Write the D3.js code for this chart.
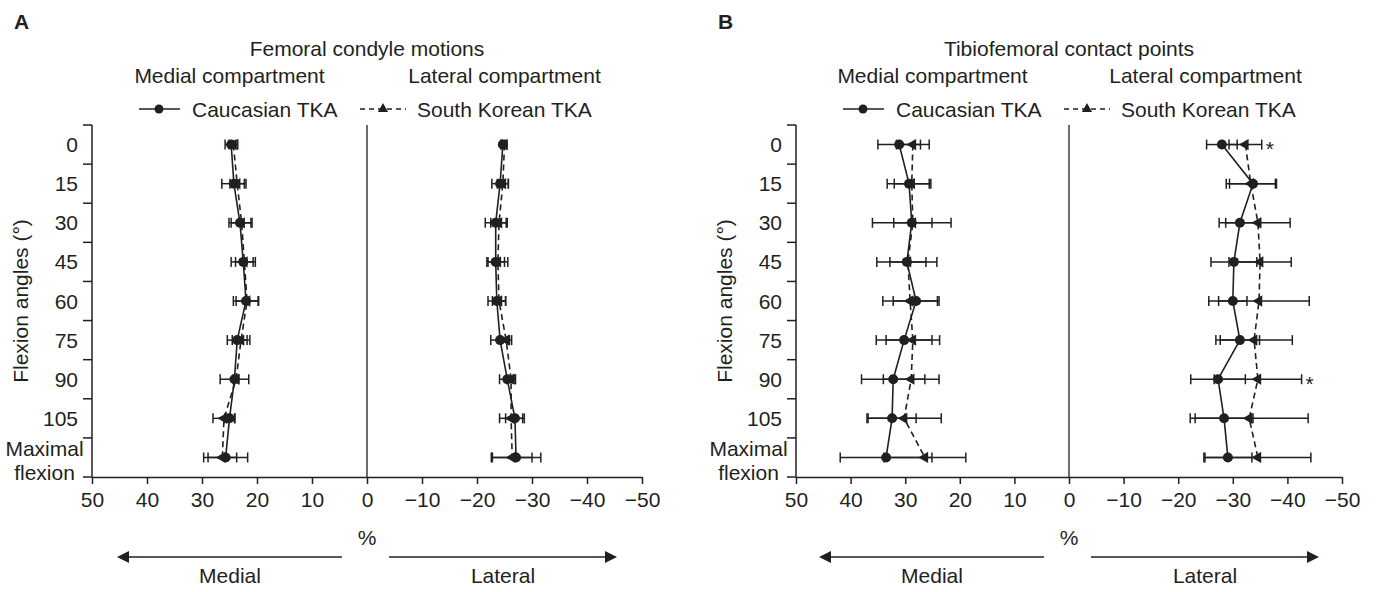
<!DOCTYPE html>
<html>
<head>
<meta charset="utf-8">
<script src="https://cdn.jsdelivr.net/npm/d3@7"></script>
<style>
  body { margin: 0; background: #fff; }
  svg text { font-family: "Liberation Sans", Arial, sans-serif; fill: #231f20; }
</style>
</head>
<body>
<div id="chart-area"></div>
<script>
const WIDTH = 1376
const HEIGHT = 592
const AXIS_TOP = 125
const AXIS_BOTTOM = 477
const INK = "#231f20"

// categories / ticks
const angles = ["0", "15", "30", "45", "60", "75", "90", "105", "Maximal flexion"]
const xTicks = [50, 40, 30, 20, 10, 0, -10, -20, -30, -40, -50]

// A: femoral condyle motions (mean, SD)
const femMedCau = [24.7, 24.2, 23.1, 22.5, 22.0, 23.6, 24.1, 25.0, 25.7]
const femMedCauSd = [1.1, 2.2, 2.0, 2.2, 2.3, 1.8, 2.6, 0.9, 4.0]
const femMedKor = [24.3, 23.6, 22.8, 22.3, 21.8, 22.9, 23.8, 26.0, 26.3]
const femMedKorSd = [0.8, 1.3, 1.9, 1.6, 2.0, 1.6, 0.5, 2.0, 2.6]
const femLatCau = [-24.7, -24.2, -23.4, -23.4, -23.6, -24.2, -25.5, -26.9, -27.1]
const femLatCauSd = [0.4, 1.5, 1.9, 1.6, 1.6, 1.7, 1.4, 1.7, 4.5]
const femLatKor = [-25.0, -24.7, -24.0, -23.8, -24.0, -25.3, -26.2, -26.2, -26.4]
const femLatKorSd = [0.4, 1.0, 1.5, 1.8, 1.2, 1.0, 0.8, 2.1, 3.6]

// B: tibiofemoral contact points (mean, SD)
const tibMedCau = [31.1, 29.3, 28.8, 29.7, 28.0, 30.2, 32.2, 32.4, 33.5]
const tibMedCauSd = [3.9, 4.0, 7.2, 5.5, 4.2, 5.1, 5.8, 4.4, 8.4]
const tibMedKor = [28.6, 28.8, 28.6, 29.5, 29.1, 28.6, 28.9, 30.2, 26.4]
const tibMedKorSd = [3.0, 3.2, 3.5, 3.3, 5.0, 4.9, 5.1, 6.8, 7.5]
const tibLatCau = [-28.0, -33.7, -31.3, -30.2, -30.0, -31.3, -27.3, -28.4, -29.1]
const tibLatCauSd = [2.8, 4.3, 3.8, 4.2, 2.6, 3.6, 5.0, 5.3, 4.4]
const tibLatKor = [-32.3, -33.3, -34.6, -35.0, -34.8, -33.9, -34.6, -33.0, -34.6]
const tibLatKorSd = [3.0, 4.5, 5.9, 5.7, 9.2, 7.0, 8.0, 10.8, 9.7]
const tibLatStars = ["0", "90"]

const svg = d3.select("#chart-area").append("svg")
    .attr("width", WIDTH)
    .attr("height", HEIGHT)

function drawPanel(p) {
    const g = svg.append("g")

    const x = d3.scaleLinear().domain([50, -50]).range([p.left, p.right])
    const y = d3.scaleBand().domain(angles).range([AXIS_TOP, AXIS_BOTTOM])
    const x0 = x(0)
    const mid = a => y(a) + y.bandwidth() / 2

    // panel letter + titles
    g.append("text").attr("x", p.left - 78).attr("y", 29)
        .attr("font-size", "21px").attr("font-weight", "bold").text(p.letter)
    g.append("text").attr("x", x0).attr("y", 55.5).attr("text-anchor", "middle")
        .attr("font-size", "21px").text(p.title)
    g.append("text").attr("x", (p.left + x0) / 2).attr("y", 83).attr("text-anchor", "middle")
        .attr("font-size", "21px").text("Medial compartment")
    g.append("text").attr("x", (x0 + p.right) / 2).attr("y", 83).attr("text-anchor", "middle")
        .attr("font-size", "21px").text("Lateral compartment")

    // legend
    const lg = g.append("g").attr("transform", `translate(${p.left}, 109)`)
    lg.append("line").attr("x1", 47).attr("x2", 88).attr("stroke", INK).attr("stroke-width", 1.6)
    lg.append("circle").attr("cx", 67).attr("r", 4.5).attr("fill", INK)
    lg.append("text").attr("x", 100).attr("dy", "0.36em").attr("font-size", "21px").text("Caucasian TKA")
    lg.append("line").attr("x1", 268).attr("x2", 314).attr("stroke", INK).attr("stroke-width", 1.4)
        .attr("stroke-dasharray", "5,4")
    lg.append("path").attr("d", d3.symbol(d3.symbolTriangle, 45)()).attr("transform", "translate(291, 0)")
        .attr("fill", INK)
    lg.append("text").attr("x", 325).attr("dy", "0.36em").attr("font-size", "21px").text("South Korean TKA")

    // x axis
    const xAxisCall = d3.axisBottom(x).tickValues(xTicks).tickSize(7).tickSizeOuter(0).tickPadding(8.5)
    const xa = g.append("g").attr("transform", `translate(0, ${AXIS_BOTTOM})`).call(xAxisCall)
    xa.selectAll("path, line").attr("stroke", INK).attr("stroke-width", 1.5)
    xa.selectAll("text").attr("font-size", "21px").attr("fill", INK)
        .style("font-family", "'Liberation Sans', Arial, sans-serif")

    // y axis
    g.append("line").attr("x1", p.left).attr("x2", p.left).attr("y1", AXIS_TOP).attr("y2", AXIS_BOTTOM)
        .attr("stroke", INK).attr("stroke-width", 1.5)
    g.selectAll(".ytick").data(d3.range(angles.length + 1)).enter().append("line")
        .attr("x1", p.left - 9).attr("x2", p.left)
        .attr("y1", i => AXIS_TOP + i * y.step()).attr("y2", i => AXIS_TOP + i * y.step())
        .attr("stroke", INK).attr("stroke-width", 1.5)
    angles.forEach(a => {
        const words = a.split(" ")
        if (words.length === 1) {
            g.append("text").attr("x", p.left - 14).attr("y", mid(a)).attr("dy", "0.36em")
                .attr("text-anchor", "end").attr("font-size", "21px").text(a)
        } else {
            const t = g.append("text").attr("text-anchor", "middle").attr("font-size", "21px")
            t.append("tspan").attr("x", p.left - 47.5).attr("y", mid(a) - 9.5).attr("dy", "0.36em").text(words[0])
            t.append("tspan").attr("x", p.left - 47.5).attr("y", mid(a) + 14.5).attr("dy", "0.36em").text(words[1])
        }
    })
    g.append("text")
        .attr("transform", `translate(${p.left - 72}, ${(AXIS_TOP + AXIS_BOTTOM) / 2}) rotate(-90)`)
        .attr("text-anchor", "middle").attr("dy", "0.36em").attr("font-size", "21px")
        .text("Flexion angles (°)")

    // zero line
    g.append("line").attr("x1", x0).attr("x2", x0).attr("y1", AXIS_TOP).attr("y2", AXIS_BOTTOM)
        .attr("stroke", INK).attr("stroke-width", 1.3)

    // series
    const series = [
        { mean: p.medCau, sd: p.medCauSd, dashed: false },
        { mean: p.latCau, sd: p.latCauSd, dashed: false },
        { mean: p.medKor, sd: p.medKorSd, dashed: true },
        { mean: p.latKor, sd: p.latKorSd, dashed: true }
    ]
    const line = d3.line().x(d => x(d.v)).y(d => mid(d.a))

    series.forEach(s => {
        const pts = angles.map((a, i) => ({ a: a, v: s.mean[i], sd: s.sd[i] }))
        const eb = g.append("g")
        eb.selectAll(".bar").data(pts).enter().append("line")
            .attr("x1", d => x(d.v - d.sd)).attr("x2", d => x(d.v + d.sd))
            .attr("y1", d => mid(d.a)).attr("y2", d => mid(d.a))
            .attr("stroke", INK).attr("stroke-width", 1.5)
        eb.selectAll(".capL").data(pts).enter().append("line")
            .attr("x1", d => x(d.v - d.sd)).attr("x2", d => x(d.v - d.sd))
            .attr("y1", d => mid(d.a) - 5).attr("y2", d => mid(d.a) + 5)
            .attr("stroke", INK).attr("stroke-width", 1.5)
        eb.selectAll(".capR").data(pts).enter().append("line")
            .attr("x1", d => x(d.v + d.sd)).attr("x2", d => x(d.v + d.sd))
            .attr("y1", d => mid(d.a) - 5).attr("y2", d => mid(d.a) + 5)
            .attr("stroke", INK).attr("stroke-width", 1.5)
        s.pts = pts
    })

    series.forEach(s => {
        g.append("path").datum(s.pts).attr("d", line)
            .attr("fill", "none").attr("stroke", INK).attr("stroke-width", 1.6)
            .attr("stroke-dasharray", s.dashed ? "6,4" : null)
    })

    series.forEach(s => {
        if (s.dashed) {
            g.selectAll(".tri").data(s.pts).enter().append("path")
                .attr("d", d3.symbol(d3.symbolTriangle, 55)())
                .attr("transform", d => `translate(${x(d.v)}, ${mid(d.a)}) rotate(-90)`)
                .attr("fill", INK)
        } else {
            g.selectAll(".dot").data(s.pts).enter().append("circle")
                .attr("cx", d => x(d.v)).attr("cy", d => mid(d.a)).attr("r", 5)
                .attr("fill", INK)
        }
    })

    // significance marks (lateral, Korean)
    if (p.stars) {
        p.stars.forEach(a => {
            const i = angles.indexOf(a)
            g.append("text").attr("x", x(p.latKor[i] - p.latKorSd[i]) + 4).attr("y", mid(a))
                .attr("dy", "0.55em").attr("font-size", "21px").text("*")
        })
    }

    // bottom label + arrows
    g.append("text").attr("x", x0).attr("y", 545).attr("text-anchor", "middle")
        .attr("font-size", "21px").text("%")
    const head = (tip, dir) => `M${tip},557 L${tip - dir * 12},551 L${tip - dir * 12},563 Z`
    g.append("line").attr("x1", x0 - 25).attr("x2", x0 - 240).attr("y1", 557).attr("y2", 557)
        .attr("stroke", INK).attr("stroke-width", 1.6)
    g.append("path").attr("d", head(x0 - 250, -1)).attr("fill", INK)
    g.append("line").attr("x1", x0 + 22).attr("x2", x0 + 240).attr("y1", 557).attr("y2", 557)
        .attr("stroke", INK).attr("stroke-width", 1.6)
    g.append("path").attr("d", head(x0 + 250, 1)).attr("fill", INK)
    g.append("text").attr("x", x0 - 137).attr("y", 583).attr("text-anchor", "middle")
        .attr("font-size", "21px").text("Medial")
    g.append("text").attr("x", x0 + 136).attr("y", 583).attr("text-anchor", "middle")
        .attr("font-size", "21px").text("Lateral")
}

drawPanel({
    letter: "A", title: "Femoral condyle motions", left: 92, right: 642,
    medCau: femMedCau, medCauSd: femMedCauSd, medKor: femMedKor, medKorSd: femMedKorSd,
    latCau: femLatCau, latCauSd: femLatCauSd, latKor: femLatKor, latKorSd: femLatKorSd
})
drawPanel({
    letter: "B", title: "Tibiofemoral contact points", left: 796, right: 1342,
    medCau: tibMedCau, medCauSd: tibMedCauSd, medKor: tibMedKor, medKorSd: tibMedKorSd,
    latCau: tibLatCau, latCauSd: tibLatCauSd, latKor: tibLatKor, latKorSd: tibLatKorSd,
    stars: tibLatStars
})
</script>
</body>
</html>
